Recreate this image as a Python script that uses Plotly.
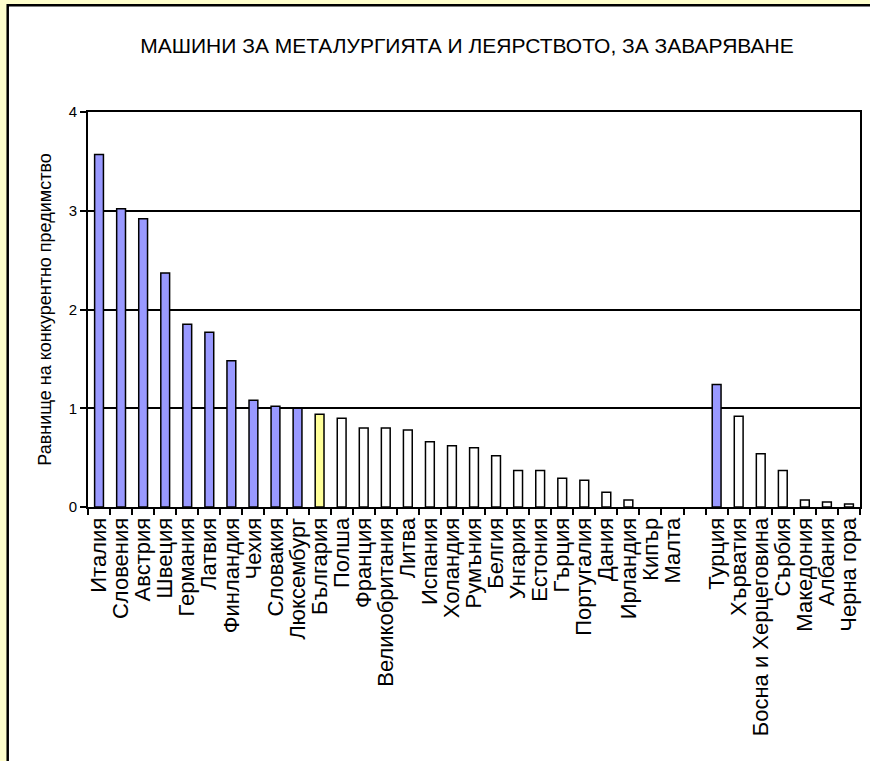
import plotly.graph_objects as go

# данни: държави ЕС, празна позиция, после страни-кандидатки
countries = ["Италия", "Словения", "Австрия", "Швеция", "Германия", "Латвия",
             "Финландия", "Чехия", "Словакия", "Люксембург", "България", "Полша",
             "Франция", "Великобритания", "Литва", "Испания", "Холандия", "Румъния",
             "Белгия", "Унгария", "Естония", "Гърция", "Португалия", "Дания",
             "Ирландия", "Кипър", "Малта", " ", "Турция", "Хърватия",
             "Босна и Херцеговина", "Сърбия", "Македония", "Албания", "Черна гора"]
values = [3.57, 3.02, 2.92, 2.37, 1.85, 1.77, 1.48, 1.08, 1.02, 1.00, 0.94, 0.90,
          0.80, 0.80, 0.78, 0.66, 0.62, 0.60, 0.52, 0.37, 0.37, 0.29, 0.27, 0.15,
          0.07, 0.0, 0.0, None, 1.24, 0.92, 0.54, 0.37, 0.07, 0.05, 0.03]
y_ticks = [0, 1, 2, 3, 4]

FONT = "Liberation Sans, Arial, sans-serif"

def bar_color(name, v):
    if name == "България":
        return "#FFFF99"
    if v is not None and v >= 1:
        return "#9999FF"
    return "white"

colors = [bar_color(c, v) for c, v in zip(countries, values)]
# нулевите стълбове не се виждат в оригинала
line_w = [0 if not v else 1.5 for v in values]

fig = go.Figure()
fig.add_trace(go.Bar(
    x=countries, y=values,
    marker=dict(color=colors, line=dict(color="black", width=line_w)),
    width=0.4, showlegend=False
))

# рамка на диаграмата (бяло поле с черен контур върху светложълт фон)
fig.add_shape(type="rect", xref="paper", yref="paper",
              x0=-0.104, x1=1.05, y0=-0.75, y1=1.27,
              fillcolor="white", line=dict(color="black", width=2.5), layer="below")

fig.update_layout(
    title=dict(text="МАШИНИ ЗА МЕТАЛУРГИЯТА И ЛЕЯРСТВОТО, ЗА ЗАВАРЯВАНЕ",
               x=0.491, xanchor="center", xref="paper", y=0.94, yanchor="middle",
               font=dict(family=FONT, size=21, color="black")),
    width=870, height=761,
    margin=dict(l=88, r=8, t=112, b=254),
    paper_bgcolor="#FFFFCC", plot_bgcolor="white",
    font=dict(family=FONT, color="black"),
    xaxis=dict(type="category", tickmode="array", tickvals=countries,
               tickson="boundaries", ticks="outside", ticklen=6,
               tickcolor="black", tickwidth=1.5, tickangle=-90,
               tickfont=dict(size=22), showline=True, linecolor="black",
               linewidth=2, mirror=True, showgrid=False),
    yaxis=dict(range=[0, 4], tickvals=y_ticks, ticks="outside", ticklen=6,
               tickcolor="black", tickwidth=1.5, tickfont=dict(size=15),
               showline=True, linecolor="black", linewidth=2, mirror=True,
               showgrid=True, gridcolor="black", gridwidth=1.5, zeroline=False,
               title=dict(text="Равнище на конкурентно предимство",
                          font=dict(size=18), standoff=12)),
    bargap=0.6,
)

fig.write_html("out.html", config={"displayModeBar": False},
               post_script="document.body.style.margin='0';")
